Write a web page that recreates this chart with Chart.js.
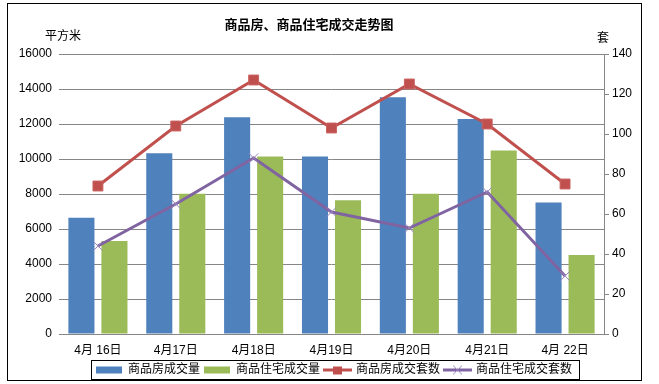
<!DOCTYPE html>
<html>
<head>
<meta charset="utf-8">
<script src="https://cdn.jsdelivr.net/npm/chart.js@4.4.1/dist/chart.umd.min.js"></script>
<style>
html,body{margin:0;padding:0;background:#fff;}
#wrap{width:659px;height:384px;}
</style>
</head>
<body>
<div id="wrap"><canvas id="trend_chart" width="659" height="384"></canvas></div>
<script>
// data
var days = ["4月 16日", "4月17日", "4月18日", "4月19日", "4月20日", "4月21日", "4月 22日"];
var houseArea = [6650, 10330, 12390, 10150, 13530, 12280, 7510];
var homeArea = [5320, 8020, 10150, 7640, 8020, 10490, 4520];
var houseSets = [74, 104, 127, 103, 125, 105, 75];
var homeSets = [44, 65, 88, 61, 53, 71, 29];
var seriesNames = ["商品房成交量", "商品住宅成交量", "商品房成交套数", "商品住宅成交套数"];
var chartTitle = "商品房、商品住宅成交走势图";
var leftUnit = "平方米";
var rightUnit = "套";

var cBlue = "#4F81BD", cGreen = "#9BBB59", cRed = "#C0504D", cPurple = "#8064A2";
var gridGrey = "#868686";
var fontFam = '"Liberation Sans", "Noto Sans CJK SC", sans-serif';

Chart.defaults.font.family = fontFam;
Chart.defaults.font.size = 12;
Chart.defaults.color = "#000";

// little legend icons
function makeIcon(type, color) {
    var c = document.createElement("canvas");
    c.width = 29; c.height = 11;
    var g = c.getContext("2d");
    if (type == "bar") {
        g.fillStyle = color;
        g.fillRect(1, 2, 26, 7);
    } else {
        g.strokeStyle = color;
        g.lineWidth = 3;
        g.beginPath(); g.moveTo(0, 5.5); g.lineTo(29, 5.5); g.stroke();
        if (type == "rect") {
            g.fillStyle = color;
            g.fillRect(10, 2, 9, 8);
        } else {
            g.lineWidth = 1;
            g.strokeStyle = "#9a86bd";
            g.beginPath();
            g.moveTo(10, 1); g.lineTo(19, 10);
            g.moveTo(19, 1); g.lineTo(10, 10);
            g.stroke();
        }
    }
    return c;
}
var legendIcons = [makeIcon("bar", cBlue), makeIcon("bar", cGreen), makeIcon("rect", cRed), makeIcon("cross", cPurple)];

var extras = {
    id: "extras",
    beforeDraw: function (chart) {
        var ctx = chart.ctx;
        ctx.save();
        ctx.fillStyle = "#fff";
        ctx.fillRect(0, 0, chart.width, chart.height);
        ctx.restore();
        // nudge legend right to match the original
        var lg = chart.legend;
        if (!lg._shifted) { lg.left += 20; lg._shifted = true; }
    },
    afterDraw: function (chart) {
        var ctx = chart.ctx;
        ctx.save();
        ctx.fillStyle = "#000";
        ctx.textBaseline = "middle";
        ctx.textAlign = "center";
        ctx.font = "bold 13px " + fontFam;
        ctx.fillText(chartTitle, 309, 25);
        ctx.font = "12px " + fontFam;
        ctx.fillText(leftUnit, 63, 37);
        ctx.fillText(rightUnit, 603, 39);
        // outer frame
        ctx.strokeStyle = "#000";
        ctx.lineWidth = 1;
        ctx.strokeRect(7.5, 3.5, 634, 377);
        // legend frame
        var lg = chart.legend;
        var pad = lg.options.labels.padding;
        var lw = lg.lineWidths[0];
        var x0 = (lg.left + pad + lg.right - lw) / 2;
        ctx.strokeRect(Math.round(x0 - 6) + 0.5, 360.5, Math.round(lw - pad + 13), 19);
        ctx.restore();
    }
};

function plainTick(v) { return String(v); }

var ctx1 = document.getElementById("trend_chart");
var trendChart = new Chart(ctx1, {
    type: "bar",
    data: {
        labels: days,
        datasets: [{
            type: "bar",
            label: seriesNames[0],
            data: houseArea,
            backgroundColor: cBlue,
            yAxisID: "y",
            order: 2,
            categoryPercentage: 0.848,
            barPercentage: 0.79
        }, {
            type: "bar",
            label: seriesNames[1],
            data: homeArea,
            backgroundColor: cGreen,
            yAxisID: "y",
            order: 2,
            categoryPercentage: 0.848,
            barPercentage: 0.79
        }, {
            type: "line",
            label: seriesNames[2],
            data: houseSets,
            borderColor: cRed,
            backgroundColor: cRed,
            borderWidth: 3,
            pointStyle: "rect",
            pointRadius: 7,
            pointBorderWidth: 1,
            pointBorderColor: "#c9625f",
            pointBackgroundColor: cRed,
            yAxisID: "y1",
            order: 0
        }, {
            type: "line",
            label: seriesNames[3],
            data: homeSets,
            borderColor: cPurple,
            backgroundColor: cPurple,
            borderWidth: 3,
            pointStyle: "crossRot",
            pointRadius: 6.5,
            pointBorderWidth: 1,
            pointBorderColor: "#9a86bd",
            yAxisID: "y1",
            order: 1
        }]
    },
    options: {
        responsive: false,
        animation: false,
        layout: {
            padding: {left: 7, right: 17, top: 54, bottom: 3}
        },
        plugins: {
            tooltip: {enabled: false},
            title: {display: false},
            legend: {
                display: true,
                position: "bottom",
                maxHeight: 22,
                labels: {
                    usePointStyle: true,
                    pointStyleWidth: 25,
                    padding: 5,
                    font: {size: 12},
                    color: "#000",
                    generateLabels: function (chart) {
                        return chart.data.datasets.map(function (ds, i) {
                            return {
                                text: ds.label,
                                pointStyle: legendIcons[i],
                                datasetIndex: i,
                                hidden: false,
                                lineWidth: 0,
                                strokeStyle: "rgba(0,0,0,0)",
                                fillStyle: "rgba(0,0,0,0)",
                                fontColor: "#000"
                            };
                        });
                    }
                }
            }
        },
        scales: {
            x: {
                grid: {display: false},
                border: {display: true, color: gridGrey, width: 1},
                ticks: {padding: 1, maxRotation: 0, autoSkip: false, font: {size: 12}},
                afterFit: function (scale) { scale.height = 25; }
            },
            y: {
                position: "left",
                min: 0,
                max: 16000,
                ticks: {stepSize: 2000, padding: 7, font: {size: 12}, callback: plainTick},
                grid: {color: gridGrey, lineWidth: 1, drawTicks: false},
                border: {display: false},
                afterFit: function (scale) { scale.width = 52; }
            },
            y1: {
                position: "right",
                min: 0,
                max: 140,
                ticks: {stepSize: 20, padding: 3, font: {size: 12}, callback: plainTick},
                grid: {drawOnChartArea: false, drawTicks: true, tickLength: 5, color: gridGrey},
                border: {display: true, color: gridGrey, width: 1},
                afterFit: function (scale) { scale.width = 38; }
            }
        }
    },
    plugins: [extras]
});
</script>
</body>
</html>
